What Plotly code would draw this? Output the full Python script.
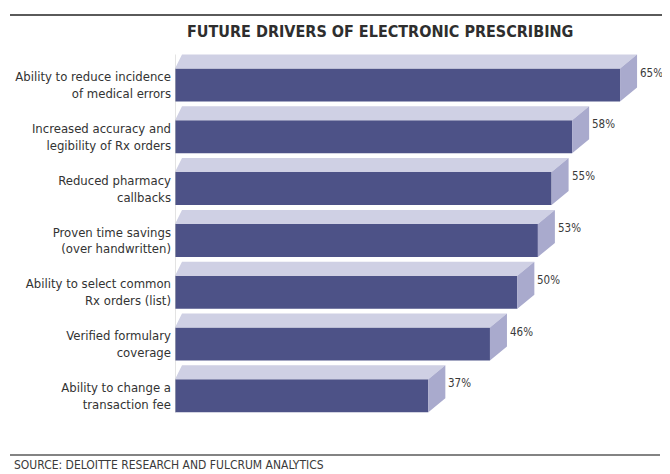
import plotly.graph_objects as go

categories = [
    "Ability to reduce incidence<br>of medical errors",
    "Increased accuracy and<br>legibility of Rx orders",
    "Reduced pharmacy<br>callbacks",
    "Proven time savings<br>(over handwritten)",
    "Ability to select common<br>Rx orders (list)",
    "Verified formulary<br>coverage",
    "Ability to change a<br>transaction fee",
]
values = [65, 58, 55, 53, 50, 46, 37]
value_labels = [f"{v}%" for v in values]

# the page body adds an 8px margin; visible figure area is 8..662 horizontally
OFF = 8
W, H = 670 - 2 * OFF, 474 - OFF
ML, MR, MT, MB = 175 - OFF, 0, 40 - OFF, 34
PX_PER_UNIT = 6.847
plot_w = W - ML - MR
XMAX = plot_w / PX_PER_UNIT
plot_h = H - MT - MB
YLO, YHI = -0.869, 6.853
px_x = PX_PER_UNIT
px_y = plot_h / (YHI - YLO)

bar_w = 33 / px_y          # front face thickness
depth_y = 14 / px_y        # top face depth
depth_x_r = 17 / px_x      # skew at right end
depth_x_l = 7 / px_x       # skew at left end

FRONT = "#4d5287"
TOP = "#cfd0e4"
SIDE = "#a9aacd"
FONT = "DejaVu Sans Condensed, DejaVu Sans, sans-serif"

ys = list(range(len(values)))

tx, ty, sx, sy = [], [], [], []
for i, v in zip(ys, values):
    f_top = i - bar_w / 2
    f_bot = i + bar_w / 2
    tx += [0, depth_x_l, v + depth_x_r, v, 0, None]
    ty += [f_top, f_top - depth_y, f_top - depth_y, f_top, f_top, None]
    sx += [v, v + depth_x_r, v + depth_x_r, v, v, None]
    sy += [f_top, f_top - depth_y, f_bot - depth_y, f_bot, f_top, None]

fig = go.Figure()
fig.add_trace(go.Scatter(x=tx, y=ty, fill="toself", fillcolor=TOP, mode="lines",
                         line=dict(width=0, color=TOP), hoverinfo="skip", showlegend=False,
                         cliponaxis=False))
fig.add_trace(go.Scatter(x=sx, y=sy, fill="toself", fillcolor=SIDE, mode="lines",
                         line=dict(width=0, color=SIDE), hoverinfo="skip", showlegend=False,
                         cliponaxis=False))
fig.add_trace(go.Bar(x=values, y=ys, orientation="h", width=bar_w,
                     marker=dict(color=FRONT, line=dict(width=0)), showlegend=False))
fig.add_trace(go.Scatter(x=[0, 0], y=[-bar_w / 2 - depth_y, len(values) - 1 + bar_w / 2],
                         mode="lines", line=dict(color="#c8c8c8", width=1),
                         hoverinfo="skip", showlegend=False))

for i, v, t in zip(ys, values, value_labels):
    fig.add_annotation(x=v, y=i - 0.24, xref="x", yref="y", text=t, showarrow=False,
                       xanchor="left", yanchor="middle", xshift=18,
                       font=dict(family=FONT, size=11.5, color="#3a3a3a"))

def py(p):
    return (H - MB - (p - OFF)) / plot_h

def px(p):
    return (p - OFF - ML) / plot_w

fig.add_shape(type="line", xref="paper", yref="paper", x0=px(10), x1=px(662),
              y0=py(15), y1=py(15), line=dict(color="#5a5a5a", width=2))
fig.add_shape(type="line", xref="paper", yref="paper", x0=px(10), x1=px(660),
              y0=py(455), y1=py(455), line=dict(color="#5a5a5a", width=1.5))

fig.add_annotation(x=px(380), y=py(32), xref="paper", yref="paper",
                   text="<b>FUTURE DRIVERS OF ELECTRONIC PRESCRIBING</b>", showarrow=False,
                   xanchor="center", yanchor="middle",
                   font=dict(family=FONT, size=16, color="#2e2e2e"))
fig.add_annotation(x=px(12), y=py(465), xref="paper", yref="paper",
                   text="SOURCE: DELOITTE RESEARCH AND FULCRUM ANALYTICS", showarrow=False,
                   xanchor="left", yanchor="middle",
                   font=dict(family=FONT, size=12, color="#3a3a3a"))

fig.update_layout(
    width=W, height=H,
    margin=dict(l=ML, r=MR, t=MT, b=MB),
    paper_bgcolor="white", plot_bgcolor="white",
    xaxis=dict(range=[0, XMAX], visible=False, fixedrange=True),
    yaxis=dict(range=[YHI, YLO], tickvals=ys, ticktext=categories, ticks="",
               showgrid=False, zeroline=False, showline=False, ticklabelstandoff=3,
               tickfont=dict(family=FONT, size=13, color="#333333")),
    showlegend=False,
)

fig.write_html("out.html")
